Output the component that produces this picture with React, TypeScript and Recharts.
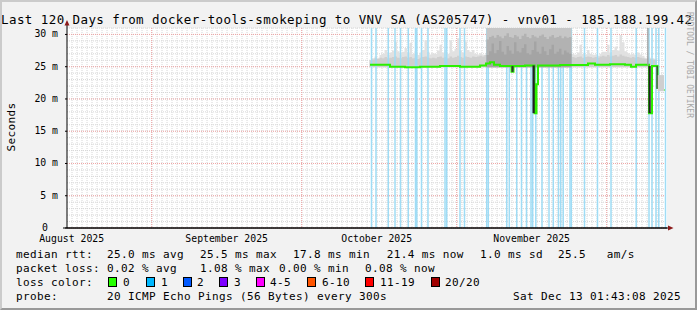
import React from 'react';
import {
  ComposedChart,
  Area,
  Line,
  XAxis,
  YAxis,
  CartesianGrid,
  ReferenceLine,
  ReferenceArea,
} from 'recharts';

const W = 697;
const H = 310;
const FONT = '"DejaVu Sans Mono", monospace';
const BG = '#f2f2f2';

// x axis is "days since graph start" (Aug 15 2025 01:43:08), 120 days shown
const monthStartDays = [16.93, 46.93, 77.93, 107.93];
const monthLabelDays = [0.93, 31.93, 61.93, 92.93];
const monthLabels = ['August 2025', 'September 2025', 'October 2025', 'November 2025'];
const yTicks = [0, 5, 10, 15, 20, 25, 30];
const yMinor = Array.from({ length: 31 }, (_, i) => i + 1);
const dayMinor = Array.from({ length: 119 }, (_, i) => i + 1);

// median rtt (ms), step points
const medianDays = [60.6, 64.6, 67.6, 70.6, 74.6, 78.6, 82.6, 83.8, 84.6, 85.4, 86.6, 88.9, 89.3, 91.6, 93.5, 93.9, 94.2, 98.6, 104.2, 105.6, 108.6, 111.6, 112.8, 113.8, 116.4, 117.0, 118.1, 118.4, 119.5];
const medianMs = [25.3, 25.0, 24.9, 25.0, 25.1, 25.0, 25.2, 25.5, 25.7, 25.3, 25.1, 24.2, 25.1, 25.2, 17.8, 22.3, 25.2, 25.25, 25.5, 25.3, 25.4, 25.3, 25.0, 25.3, 17.8, 25.1, 21.7, 21.4, 21.4];

// smoke, sampled every half day
const SMOKE_BASE = 24.9;
const preStart = 60.5;
const smokeOuterPre = [26.0, 26.3, 26.6, 26.4, 26.8, 27.0, 27.6, 26.8, 27.2, 27.5, 28.9, 27.4, 26.9, 27.3, 27.9, 27.2, 28.7, 27.0, 27.4, 26.8, 27.2, 27.6, 29.1, 27.3, 26.9, 27.1, 27.0, 27.5, 28.4, 27.2, 27.6, 27.0, 29.1, 27.4, 27.8, 29.4, 27.5, 27.2, 28.9, 27.6, 27.3, 27.6, 27.0, 26.9, 27.1, 26.8, 26.9, 26.9];
const smokeInnerPre = [26.0, 26.1, 26.3, 26.2, 26.4, 26.3, 26.5, 26.3, 26.4, 26.5, 26.6, 26.4, 26.3, 26.5, 26.6, 26.4, 26.5, 26.3, 26.4, 26.2, 26.4, 26.5, 26.6, 26.4, 26.3, 26.4, 26.3, 26.5, 26.6, 26.4, 26.5, 26.3, 26.6, 26.4, 26.5, 26.7, 26.5, 26.4, 26.6, 26.5, 26.4, 26.6, 26.5, 26.6, 26.7, 26.6, 26.8, 26.8];
const postStart = 100.5;
const smokeOuterPost = [26.9, 27.0, 26.8, 27.2, 28.4, 27.0, 26.9, 27.6, 27.0, 26.8, 26.9, 26.7, 27.0, 27.3, 27.3, 28.4, 27.2, 27.6, 28.1, 27.5, 29.9, 28.8, 27.4, 27.1, 26.9, 27.0, 26.8, 27.2, 26.9, 26.7, 26.4, 26.6, 26.4, 26.3, 26.2, 26.0];
const smokeInnerPost = [26.4, 26.5, 26.4, 26.5, 26.6, 26.4, 26.5, 26.6, 26.5, 26.4, 26.5, 26.4, 26.6, 26.7, 26.6, 26.8, 26.6, 26.7, 26.8, 26.6, 26.9, 26.7, 26.6, 26.5, 26.4, 26.5, 26.4, 26.5, 26.4, 26.3, 26.2, 26.3, 26.2, 26.1, 26.0, 25.9];

// heavy jitter period, sampled every half day
const blockStart = 83.9;
const blockMidMs = [29.2, 29.6, 29.8, 29.5, 29.9, 29.7, 29.4, 29.8, 30.2, 29.6, 29.5, 29.9, 29.7, 29.3, 29.8, 30.1, 29.6, 29.4, 29.9, 29.7, 29.5, 29.8, 30.0, 29.6, 29.3, 29.7, 29.9, 29.5, 29.6, 29.8, 29.4, 29.7, 29.5, 29.6, 29.6];
const blockDarkMs = [26.8, 27.4, 28.6, 27.1, 27.6, 29.0, 27.3, 26.9, 28.2, 27.5, 27.0, 28.8, 27.4, 27.2, 27.9, 28.5, 27.1, 26.9, 27.6, 28.9, 27.3, 27.0, 28.1, 27.4, 26.8, 27.7, 28.4, 27.0, 27.3, 27.8, 26.9, 27.5, 27.2, 27.0, 27.0];

// narrow dark smoke at the drops: [fromDay, toDay, lowMs, highMs, colour]
const dropSmoke: [number, number, number, number, string][] = [
  [88.9, 89.3, 24.2, 25.1, '#333333'],
  [93.1, 93.55, 17.8, 25.2, '#222222'],
  [116.05, 116.3, 25.2, 31, '#9a9a9a'],
  [116.3, 116.75, 17.8, 25.1, '#222222'],
  [117.9, 118.15, 21.6, 25.1, '#333333'],
  [118.15, 119.4, 21.2, 23.7, '#cfcfcf'],
];

// days with packet loss (vertical light-blue bars)
const lossDays = [60.9, 61.8, 64.26, 65.6, 66.7, 68.26, 69.7, 69.96, 70.9, 72.2, 75.6, 75.94, 78.6, 79.5, 83.94, 84.26, 87.94, 88.46, 89.94, 90.9, 91.9, 92.8, 93.14, 93.76, 95.0, 96.4, 97.26, 98.3, 98.74, 99.24, 100.6, 100.86, 103.5, 106.1, 108.8, 113.84, 116.4, 117.0, 117.8, 118.36, 119.7];

// legend
const rttRow: [number, string][] = [[16, 'median rtt:'], [107, '25.0 ms avg'], [200, '25.5 ms max'], [293, '17.8 ms min'], [386.7, '21.4 ms now'], [480, '1.0 ms sd'], [558, '25.5'], [606.7, 'am/s']];
const lossRow: [number, string][] = [[16, 'packet loss:'], [107, '0.02 % avg'], [200, '1.08 % max'], [279, '0.00 % min'], [365, '0.08 % now']];
const probeRow: [number, string][] = [[16, 'probe:'], [107, '20 ICMP Echo Pings (56 Bytes) every 300s'], [513, 'Sat Dec 13 01:43:08 2025']];
const lossColors = ['#26ff00', '#00b8ff', '#0059ff', '#7e00ff', '#ff00ff', '#ff5500', '#ff0000', '#a10000'];
const lossLabels = ['0', '1', '2', '3', '4-5', '6-10', '11-19', '20/20'];
const swatchX = [108, 146, 183, 219, 256, 307, 365, 431];
const lossLabelX = [123, 161, 197, 234, 270, 322, 380, 445];
const rowY = [254.3, 268.2, 282.1, 296];

const medianData = medianDays.map((t, i) => ({ t, v: medianMs[i] }));
const preSmoke = smokeOuterPre.map((o, i) => ({ t: preStart + i * 0.5, outer: [SMOKE_BASE, o], inner: [SMOKE_BASE, smokeInnerPre[i]] }));
const postSmoke = smokeOuterPost.map((o, i) => ({ t: postStart + i * 0.5, outer: [SMOKE_BASE, o], inner: [SMOKE_BASE, smokeInnerPost[i]] }));
const blockData = blockMidMs.map((m, i) => ({ t: blockStart + i * 0.5, top: [SMOKE_BASE, 31], mid: [SMOKE_BASE, m], dark: [SMOKE_BASE, blockDarkMs[i]] }));

const YTick = (props: any) => {
  const { x, y, payload } = props;
  const v = payload.value;
  return (
    <text x={v === 0 ? x - 17 : x - 7} y={y - 0.5} textAnchor="end" dominantBaseline="central" fontFamily={FONT} fontSize={9.8} fill="#000">
      {v === 0 ? '0' : `${v} m`}
    </text>
  );
};

const XTick = (props: any) => {
  const { x, y, payload } = props;
  const idx = monthLabelDays.indexOf(payload.value);
  return (
    <text x={x} y={y + 10} textAnchor="middle" dominantBaseline="central" fontFamily={FONT} fontSize={9.8} fill="#000">
      {monthLabels[idx]}
    </text>
  );
};

const legendText = { fontFamily: FONT, fontSize: 11, letterSpacing: 0.38, fill: '#000' } as const;

export default function App() {
  return (
    <div style={{ position: 'relative', width: W, height: H, background: BG, overflow: 'hidden' }}>
      <style>{'body{margin:0}'}</style>
      <div style={{ position: 'absolute', left: 0, top: 0 }}>
        <ComposedChart width={W} height={H} margin={{ top: 28, right: 30, bottom: 62, left: 10 }}>
          <CartesianGrid
            fill="#ffffff"
            fillOpacity={1}
            stroke="#d6d6d6"
            strokeDasharray="1 1"
            horizontalValues={yMinor}
            verticalValues={dayMinor}
            zIndex={-110}
          />
          <CartesianGrid
            stroke="#f0a6a6"
            strokeDasharray="1 1"
            horizontalValues={yTicks}
            verticalValues={monthStartDays}
            zIndex={-105}
          />
          <Area data={preSmoke} dataKey="outer" type="stepAfter" stroke="none" fill="#e1e1e1" fillOpacity={1} isAnimationActive={false} dot={false} activeDot={false} zIndex={100} />
          <Area data={preSmoke} dataKey="inner" type="stepAfter" stroke="none" fill="#cfcfcf" fillOpacity={1} isAnimationActive={false} dot={false} activeDot={false} zIndex={101} />
          <Area data={postSmoke} dataKey="outer" type="stepAfter" stroke="none" fill="#e1e1e1" fillOpacity={1} isAnimationActive={false} dot={false} activeDot={false} zIndex={100} />
          <Area data={postSmoke} dataKey="inner" type="stepAfter" stroke="none" fill="#cfcfcf" fillOpacity={1} isAnimationActive={false} dot={false} activeDot={false} zIndex={101} />
          {lossDays.map((d) => (
            <ReferenceLine key={`loss-${d}`} x={d} stroke="#9fdcf5" strokeWidth={1.5} zIndex={150} />
          ))}
          <Area data={blockData} dataKey="top" type="stepAfter" stroke="none" fill="#c6c6c6" fillOpacity={1} isAnimationActive={false} dot={false} activeDot={false} zIndex={200} />
          <Area data={blockData} dataKey="mid" type="stepAfter" stroke="none" fill="#b2b2b2" fillOpacity={1} isAnimationActive={false} dot={false} activeDot={false} zIndex={201} />
          <Area data={blockData} dataKey="dark" type="stepAfter" stroke="none" fill="#a4a4a4" fillOpacity={1} isAnimationActive={false} dot={false} activeDot={false} zIndex={202} />
          <Line data={medianData} dataKey="v" type="stepAfter" stroke="#2bf000" strokeWidth={2} dot={false} activeDot={false} isAnimationActive={false} zIndex={400} />
          {dropSmoke.map(([x1, x2, y1, y2, c]) => (
            <ReferenceArea key={`drop-${x1}`} x1={x1} x2={x2} y1={y1} y2={y2} fill={c} fillOpacity={1} stroke="none" zIndex={450} />
          ))}
          <XAxis
            type="number"
            dataKey="t"
            domain={[0, 120]}
            allowDataOverflow
            ticks={monthLabelDays}
            interval={0}
            tick={<XTick />}
            tickLine={false}
            tickSize={0}
            tickMargin={0}
            axisLine={{ stroke: '#000' }}
            height={20}
          />
          <YAxis
            type="number"
            domain={[0, 31]}
            allowDataOverflow
            ticks={yTicks}
            interval={0}
            tick={<YTick />}
            tickSize={2}
            tickMargin={0}
            tickLine={{ stroke: '#000' }}
            axisLine={{ stroke: '#000' }}
            width={57}
          />
        </ComposedChart>
      </div>
      <svg width={W} height={H} style={{ position: 'absolute', left: 0, top: 0, pointerEvents: 'none' }}>
        <text x={1} y={19.2} dominantBaseline="central" fontFamily={FONT} fontSize={12.5} textLength={691} lengthAdjust="spacing" fill="#000">
          Last 120 Days from docker-tools-smokeping to VNV SA (AS205747) - vnv01 - 185.188.199.42
        </text>
        <line x1={67} y1={28} x2={67} y2={23} stroke="#000" />
        <polygon points="64.5,25.5 69.5,25.5 67,20" fill="#8b1a1a" />
        <line x1={63} y1={228} x2={667} y2={228} stroke="#000" />
        <line x1={667} y1={228} x2={669} y2={228} stroke="#000" />
        <polygon points="668,225.5 668,230.5 673.5,228" fill="#8b1a1a" />
        <text transform="translate(11,127) rotate(-90)" textAnchor="middle" dominantBaseline="central" {...legendText}>
          Seconds
        </text>
        <text transform="translate(689.5,65) rotate(90)" textAnchor="middle" dominantBaseline="central" fontFamily={FONT} fontSize={8} fill="#a8a8a8">
          RRDTOOL / TOBI OETIKER
        </text>
        {rttRow.map(([x, s]) => (
          <text key={`r-${x}`} x={x} y={rowY[0]} dominantBaseline="central" {...legendText}>{s}</text>
        ))}
        {lossRow.map(([x, s]) => (
          <text key={`l-${x}`} x={x} y={rowY[1]} dominantBaseline="central" {...legendText}>{s}</text>
        ))}
        <text x={16} y={rowY[2]} dominantBaseline="central" {...legendText}>loss color:</text>
        {lossColors.map((c, i) => (
          <g key={`sw-${i}`}>
            <rect x={swatchX[i] + 0.5} y={277.5} width={8} height={9} fill={c} stroke="#000" strokeWidth={1} />
            <text x={lossLabelX[i]} y={rowY[2]} dominantBaseline="central" {...legendText}>{lossLabels[i]}</text>
          </g>
        ))}
        {probeRow.map(([x, s]) => (
          <text key={`p-${x}`} x={x} y={rowY[3]} dominantBaseline="central" {...legendText}>{s}</text>
        ))}
      </svg>
      <div
        style={{
          position: 'absolute',
          left: 0,
          top: 0,
          width: W,
          height: H,
          boxSizing: 'border-box',
          borderStyle: 'solid',
          borderWidth: 2,
          borderColor: '#cbcbcb #999999 #999999 #cbcbcb',
          pointerEvents: 'none',
        }}
      />
    </div>
  );
}
